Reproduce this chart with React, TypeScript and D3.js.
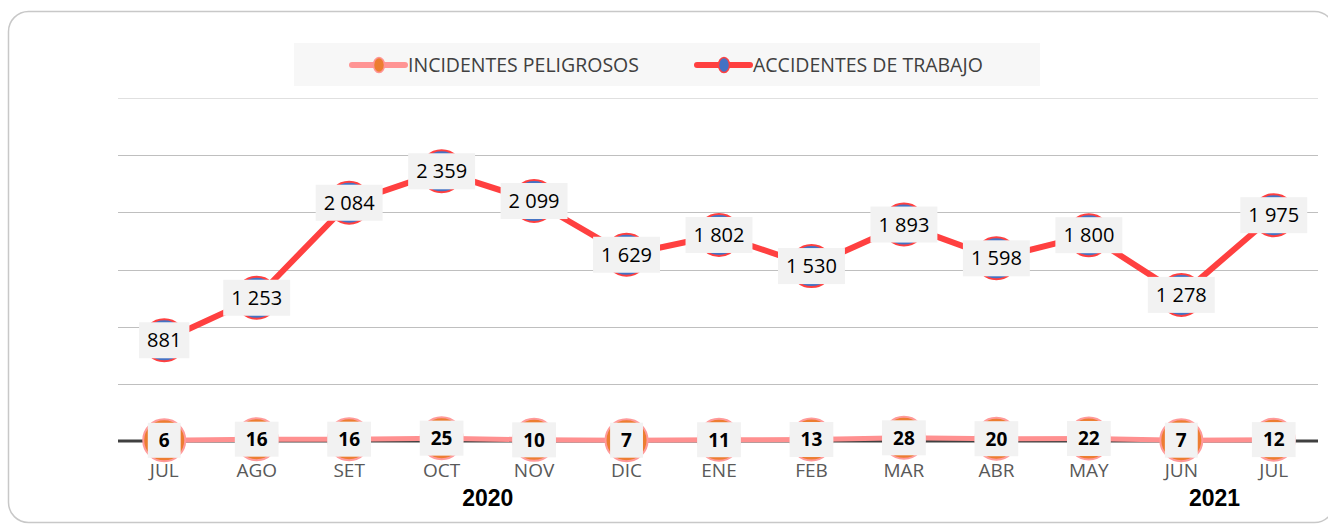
import React, { useEffect, useRef } from 'react';
import * as d3 from 'd3';

// Monthly values, Jul 2020 - Jul 2021
const months = ['JUL', 'AGO', 'SET', 'OCT', 'NOV', 'DIC', 'ENE', 'FEB', 'MAR', 'ABR', 'MAY', 'JUN', 'JUL'];
const accidentes = [881, 1253, 2084, 2359, 2099, 1629, 1802, 1530, 1893, 1598, 1800, 1278, 1975];
const incidentes = [6, 16, 16, 25, 10, 7, 11, 13, 28, 20, 22, 7, 12];
const years = ['2020', '2021'];
const yTicks = [0, 500, 1000, 1500, 2000, 2500, 3000];

const W = 1328;
const H = 524;
const FONT = "'Open Sans', sans-serif";

const fmt = d3.formatLocale({ decimal: ',', thousands: ' ', grouping: [3], currency: ['', ''] }).format(',d');

const App = () => {
    const svgRef = useRef<SVGSVGElement>(null);

    useEffect(() => {
        const svg = d3.select(svgRef.current);
        svg.selectAll('*').remove();

        const x = d3.scaleBand<number>()
            .domain(months.map((_, i) => i))
            .range([118, 1320])
            .padding(0);
        const cx = (i: number) => (x(i) as number) + x.bandwidth() / 2;

        const y = d3.scaleLinear().domain([0, 3000]).range([441, 98]);

        // frame (right side runs past the picture edge)
        svg.append('rect')
            .attr('x', 8.5).attr('y', 11.5)
            .attr('width', 1326).attr('height', 511)
            .attr('rx', 20)
            .attr('fill', '#fff')
            .attr('stroke', '#c8c8c8')
            .attr('stroke-width', 1.5);

        // grid
        svg.append('g')
            .selectAll('line')
            .data(yTicks.filter(d => d > 0))
            .join('line')
            .attr('x1', 118).attr('x2', 1318)
            .attr('y1', d => Math.round(y(d)) + 0.5)
            .attr('y2', d => Math.round(y(d)) + 0.5)
            .attr('stroke', d => d === 3000 ? '#e0e0e0' : '#bfbfbf')
            .attr('stroke-width', 1);

        // baseline
        svg.append('line')
            .attr('x1', 118).attr('x2', 1318)
            .attr('y1', y(0)).attr('y2', y(0))
            .attr('stroke', '#404040')
            .attr('stroke-width', 3);

        // legend
        const lg = svg.append('g');
        lg.append('rect')
            .attr('x', 294).attr('y', 43)
            .attr('width', 746).attr('height', 43)
            .attr('fill', '#f7f7f7');
        const legendItems = [
            { name: 'INCIDENTES PELIGROSOS', line: '#ff9494', fill: '#ed7d31', x0: 352 },
            { name: 'ACCIDENTES DE TRABAJO', line: '#ff4040', fill: '#4472c4', x0: 697 }
        ];
        legendItems.forEach(it => {
            lg.append('line')
                .attr('x1', it.x0).attr('x2', it.x0 + 53)
                .attr('y1', 65).attr('y2', 65)
                .attr('stroke', it.line).attr('stroke-width', 6)
                .attr('stroke-linecap', 'round');
            lg.append('ellipse')
                .attr('cx', it.x0 + 27).attr('cy', 65)
                .attr('rx', 5.5).attr('ry', 7.5)
                .attr('fill', it.fill)
                .attr('stroke', it.line).attr('stroke-width', 1.5);
            lg.append('text')
                .attr('x', it.x0 + 56).attr('y', 72)
                .attr('font-family', FONT).attr('font-size', 19.5)
                .attr('fill', '#404040')
                .text(it.name);
        });

        // lines
        const line = d3.line<number>().x((_, i) => cx(i)).y(d => y(d));
        svg.append('path')
            .datum(accidentes)
            .attr('d', line)
            .attr('fill', 'none')
            .attr('stroke', '#ff4040')
            .attr('stroke-width', 6)
            .attr('stroke-linejoin', 'round');
        svg.append('path')
            .datum(incidentes)
            .attr('d', line)
            .attr('fill', 'none')
            .attr('stroke', '#ff9090')
            .attr('stroke-width', 5);

        // markers
        svg.append('g').selectAll('circle')
            .data(accidentes)
            .join('circle')
            .attr('cx', (_, i) => cx(i)).attr('cy', d => y(d))
            .attr('r', 21)
            .attr('fill', '#4472c4')
            .attr('stroke', '#ff4040').attr('stroke-width', 2);
        svg.append('g').selectAll('circle')
            .data(incidentes)
            .join('circle')
            .attr('cx', (_, i) => cx(i)).attr('cy', d => y(d))
            .attr('r', 21)
            .attr('fill', '#ed7d31')
            .attr('stroke', '#ff9a9a').attr('stroke-width', 2);

        // data labels with grey boxes
        const addLabels = (data: number[], bold: boolean, size: number, boxH: number, pad: number) => {
            const g = svg.append('g');
            data.forEach((d, i) => {
                const lg2 = g.append('g');
                const rect = lg2.append('rect').attr('fill', '#f2f2f2');
                const t = lg2.append('text')
                    .attr('x', cx(i)).attr('y', y(d))
                    .attr('dy', '0.36em')
                    .attr('text-anchor', 'middle')
                    .attr('font-family', FONT).attr('font-size', size)
                    .attr('font-weight', bold ? 700 : 400)
                    .attr('fill', '#000')
                    .text(fmt(d));
                const w = (t.node() as SVGTextElement).getComputedTextLength();
                rect.attr('x', cx(i) - w / 2 - pad)
                    .attr('y', y(d) - boxH / 2)
                    .attr('width', w + pad * 2)
                    .attr('height', boxH);
            });
        };
        addLabels(accidentes, false, 20, 36, 8);
        addLabels(incidentes, true, 19, 35, 11);

        // month labels
        svg.append('g').selectAll('text')
            .data(months)
            .join('text')
            .attr('x', (_, i) => cx(i)).attr('y', 477)
            .attr('text-anchor', 'middle')
            .attr('font-family', FONT).attr('font-size', 19)
            .attr('fill', '#595959')
            .text(d => d);

        // year labels
        const yearPos = [(cx(3) + cx(4)) / 2, cx(11) + x.step() * 0.36];
        svg.append('g').selectAll('text')
            .data(years)
            .join('text')
            .attr('x', (_, i) => yearPos[i]).attr('y', 506)
            .attr('text-anchor', 'middle')
            .attr('font-family', "'Liberation Sans', Arial, sans-serif")
            .attr('font-size', 23).attr('font-weight', 700)
            .attr('fill', '#000')
            .text(d => d);
    }, []);

    return (
        <div style={{ position: 'absolute', left: 0, top: 0, width: W, height: H, background: '#fff' }}>
            <svg ref={svgRef} width={W} height={H}></svg>
        </div>
    );
};

export default App;
